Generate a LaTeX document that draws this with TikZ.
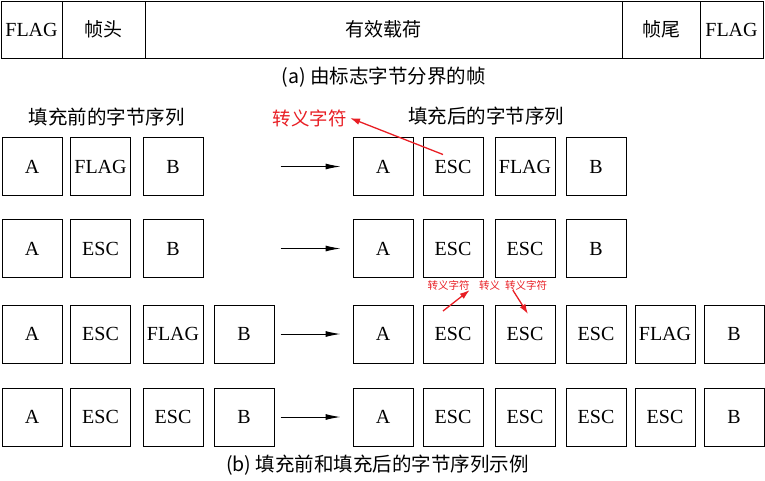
\documentclass[tikz,border=0pt]{standalone}
\usepackage{fontspec}
\setmainfont{Liberation Serif}
\newfontfamily\cjk{Noto Sans CJK SC}
\usetikzlibrary{arrows.meta}
\definecolor{escred}{RGB}{232,30,36}

\begin{document}
\begin{tikzpicture}[x=1pt, y=-1pt,
    byte/.style={draw, line width=1pt, minimum width=60pt, minimum height=58pt, inner sep=0pt, font=\fontsize{20}{24}\selectfont},
    cell/.style={draw, line width=1pt, minimum height=57pt, inner sep=0pt, font=\fontsize{20}{24}\selectfont},
    arr/.style={-{Latex[length=15pt,width=6pt]}, line width=1pt},
    redarr/.style={-{Latex[length=10pt,width=6.5pt]}, line width=1.3pt, escred},
    head/.style={font=\cjk\fontsize{19.5}{22}\selectfont},
    note/.style={escred, inner sep=0pt, font=\cjk\fontsize{10.5}{12}\selectfont}]
    \useasboundingbox (0,0) rectangle (765,480);

    % Frame
    \node[cell, minimum width=61pt] (f1) at (31.5,29.5) {FLAG};
    \node[cell, minimum width=83pt, font=\cjk\fontsize{19}{22}\selectfont] (f2) at (103.5,29.5) {帧头};
    \node[cell, minimum width=477pt, font=\cjk\fontsize{19}{22}\selectfont] (f3) at (383.5,29.5) {有效载荷};
    \node[cell, minimum width=78pt, font=\cjk\fontsize{19}{22}\selectfont] (f4) at (661,29.5) {帧尾};
    \node[cell, minimum width=63pt] (f5) at (731.5,29.5) {FLAG};
    \node[head] (capa) at (383.5,77) {(a) 由标志字节分界的帧};

    % Headings
    \node[head] (before) at (106.5,117) {填充前的字节序列};
    \node[head] (after) at (486,116) {填充后的字节序列};
    \node[head, escred, font=\cjk\fontsize{18.5}{22}\selectfont] (esclab) at (309.5,118) {转义字符};

    % Row 1
    \node[byte] (l1-1) at (32,166.5) {A};
    \node[byte] (l1-2) at (100.5,166.5) {FLAG};
    \node[byte] (l1-3) at (173,166.5) {B};
    \node[byte] (r1-1) at (383,166.5) {A};
    \node[byte] (r1-2) at (453,166.5) {ESC};
    \node[byte] (r1-3) at (525,166.5) {FLAG};
    \node[byte] (r1-4) at (596,166.5) {B};

    % Row 2
    \node[byte] (l2-1) at (32,248.5) {A};
    \node[byte] (l2-2) at (100.5,248.5) {ESC};
    \node[byte] (l2-3) at (173,248.5) {B};
    \node[byte] (r2-1) at (383,248.5) {A};
    \node[byte] (r2-2) at (453,248.5) {ESC};
    \node[byte] (r2-3) at (525,248.5) {ESC};
    \node[byte] (r2-4) at (596,248.5) {B};

    % Row 3
    \node[byte] (l3-1) at (32,334) {A};
    \node[byte] (l3-2) at (100.5,334) {ESC};
    \node[byte] (l3-3) at (173,334) {FLAG};
    \node[byte] (l3-4) at (244,334) {B};
    \node[byte] (r3-1) at (383,334) {A};
    \node[byte] (r3-2) at (453,334) {ESC};
    \node[byte] (r3-3) at (525,334) {ESC};
    \node[byte] (r3-4) at (596,334) {ESC};
    \node[byte] (r3-5) at (665,334) {FLAG};
    \node[byte] (r3-6) at (734,334) {B};

    % Row 4
    \node[byte] (l4-1) at (32,417) {A};
    \node[byte] (l4-2) at (100.5,417) {ESC};
    \node[byte] (l4-3) at (173,417) {ESC};
    \node[byte] (l4-4) at (244,417) {B};
    \node[byte] (r4-1) at (383,417) {A};
    \node[byte] (r4-2) at (453,417) {ESC};
    \node[byte] (r4-3) at (525,417) {ESC};
    \node[byte] (r4-4) at (596,417) {ESC};
    \node[byte] (r4-5) at (665,417) {ESC};
    \node[byte] (r4-6) at (734,417) {B};

    % Stuffing arrows
    \draw[arr] ([xshift=-72pt]r1-1.west) -- ([xshift=-12pt]r1-1.west);
    \draw[arr] ([xshift=-72pt]r2-1.west) -- ([xshift=-12pt]r2-1.west);
    \draw[arr] ([xshift=-72pt]r3-1.west) -- ([xshift=-12pt]r3-1.west);
    \draw[arr] ([xshift=-72pt]r4-1.west) -- ([xshift=-12pt]r4-1.west);

    % Escape notes
    \draw[redarr] ([xshift=-10pt,yshift=12pt]r1-2.center) -- (esclab.east);
    \node[note] (n1) at (448.5,285) {转义字符};
    \node[note] (n2) at (489.5,285) {转义};
    \node[note] (n3) at (526,285) {转义字符};
    \draw[redarr] ([xshift=-10pt,yshift=23pt]r3-2.center) -- (n1.south east);
    \draw[redarr] ([xshift=8pt]n3.south west) -- ([xshift=3pt,yshift=20pt]r3-3.center);

    \node[head] (capb) at (377.5,465) {(b) 填充前和填充后的字节序列示例};
\end{tikzpicture}
\end{document}
